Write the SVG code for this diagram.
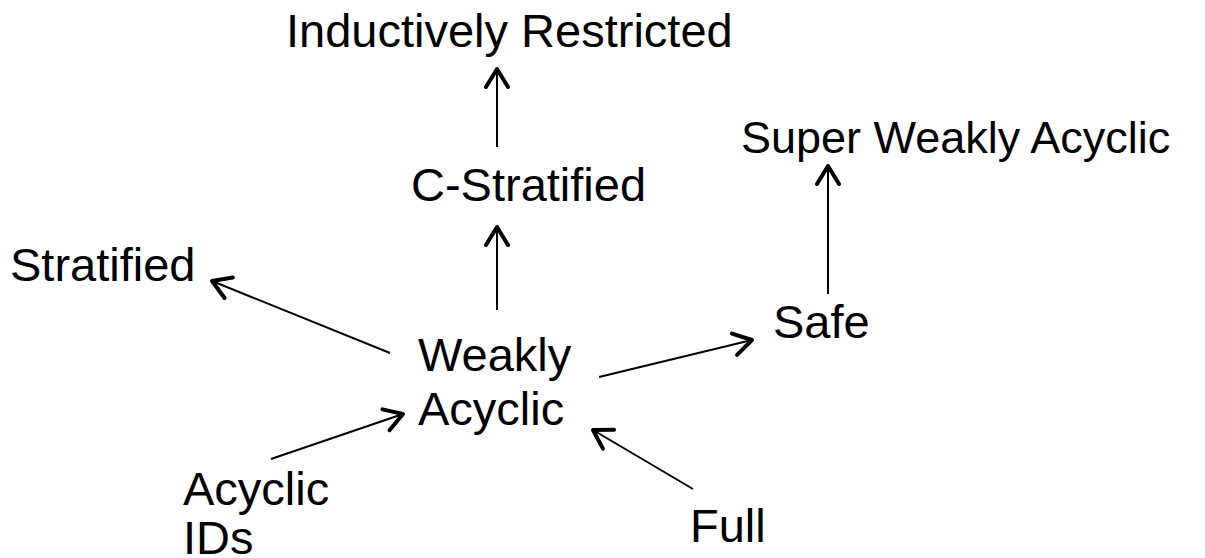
<svg xmlns="http://www.w3.org/2000/svg" width="1205" height="558" viewBox="0 0 1205 558">
<style>
text{font-family:"Liberation Sans",Arial,sans-serif;font-size:47px;fill:#000}
.c{stroke:#000;stroke-width:2;fill:none}
</style>
<defs>
<marker id="ah" markerUnits="userSpaceOnUse" viewBox="-24 -15 28 30" refX="0" refY="0" markerWidth="28" markerHeight="30" orient="auto">
<path d="M-18,-11 L0,0 L-18,11" fill="none" stroke="#000" stroke-width="4" stroke-linecap="round" stroke-linejoin="round"/>
</marker>
</defs>
<rect width="1205" height="558" fill="#fff"/>
<g id="connectors">
<line class="c" x1="497" y1="147" x2="497" y2="69" marker-end="url(#ah)"/>
<line class="c" x1="497" y1="310" x2="497" y2="227" marker-end="url(#ah)"/>
<line class="c" x1="828" y1="294" x2="828" y2="166" marker-end="url(#ah)"/>
<line class="c" x1="390" y1="353" x2="212" y2="281" marker-end="url(#ah)"/>
<line class="c" x1="599" y1="377" x2="752" y2="340" marker-end="url(#ah)"/>
<line class="c" x1="271" y1="459" x2="403" y2="414" marker-end="url(#ah)"/>
<line class="c" x1="693" y1="489" x2="593" y2="430" marker-end="url(#ah)"/>
</g>
<g id="inductively-restricted"><text x="286" y="47">Inductively Restricted</text></g>
<g id="super-weakly-acyclic"><text x="741" y="153" style="font-size:45px">Super Weakly Acyclic</text></g>
<g id="c-stratified"><text x="411" y="201">C-Stratified</text></g>
<g id="stratified"><text x="10" y="281">Stratified</text></g>
<g id="safe"><text x="773" y="338">Safe</text></g>
<g id="weakly-acyclic"><text x="418" y="371">Weakly</text><text x="418" y="425">Acyclic</text></g>
<g id="acyclic-ids"><text x="183" y="505">Acyclic</text><text x="183" y="554">IDs</text></g>
<g id="full"><text x="690" y="542">Full</text></g>
</svg>
